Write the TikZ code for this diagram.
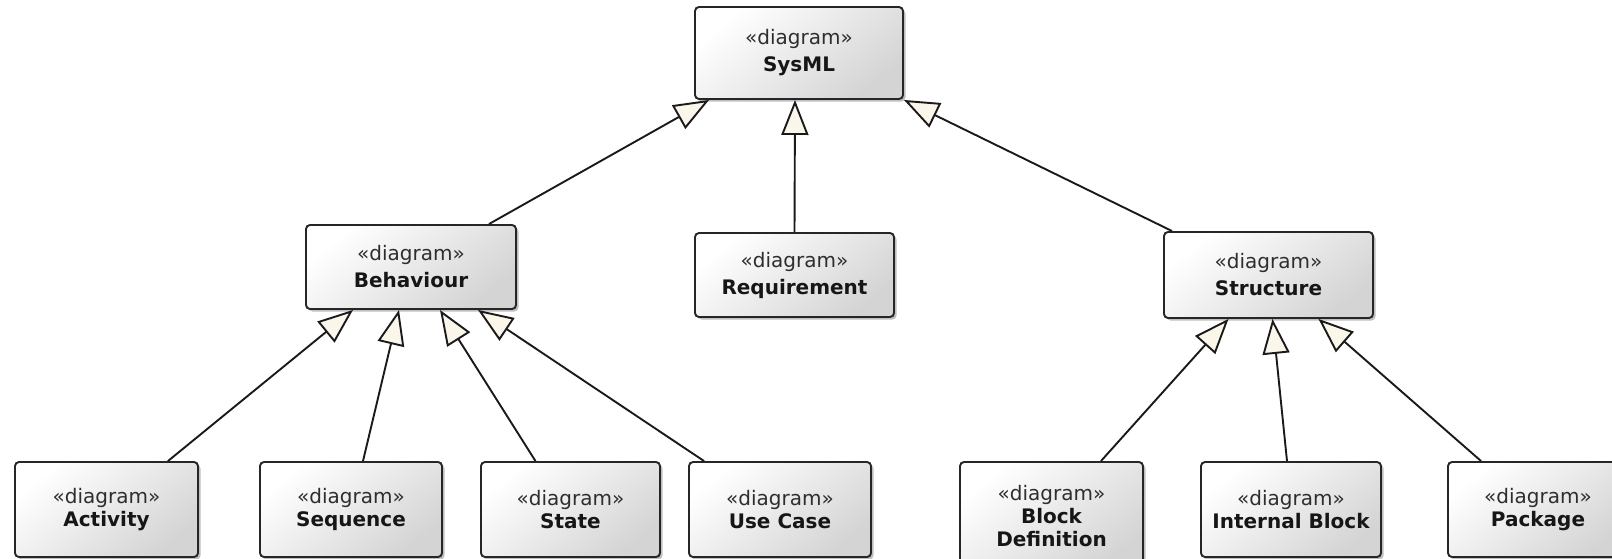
\documentclass[tikz,border=0pt]{standalone}
\usepackage{fontspec}
\setmainfont{DejaVu Sans}
\usetikzlibrary{arrows.meta,shadows}

\definecolor{boxline}{HTML}{262626}
\definecolor{boxshade}{HTML}{D4D4D4}
\definecolor{lineclr}{HTML}{1A1A1A}
\definecolor{cream}{HTML}{FAF6E9}
\definecolor{txt}{HTML}{161616}
\definecolor{stereo}{HTML}{2E2E2E}

\newcommand\stp{{\mdseries\color{stereo}«diagram»}}

\tikzset{
  dgm/.style={draw=boxline, line width=1.9pt, rounded corners=4pt,
    top color=white, bottom color=boxshade, shading angle=40,
    align=center, text=txt, inner sep=0pt,
    font=\fontsize{20}{27}\selectfont\bfseries,
    drop shadow={shadow xshift=2.5pt, shadow yshift=-2.5pt, opacity=.25, fill=black}},
  upper/.style={dgm},
  lower/.style={dgm, minimum width=182pt, minimum height=95pt,
    font=\fontsize{20}{23}\selectfont\bfseries},
  gen/.style={draw=lineclr, line width=1.9pt,
    -{Triangle[length=35pt, width=27pt, fill=cream, line width=1.9pt]}},
}

\begin{document}
\begin{tikzpicture}[x=1pt, y=-1pt]
  \useasboundingbox (0,0) rectangle (1612,558);
  \fill[white] (0,0) rectangle (1612,558);
  \clip (0,0) rectangle (1612,558);

  % top level
  \node[upper, minimum width=208pt, minimum height=92pt] (sysml) at (799,53) {\stp\\SysML};

  % second level
  \node[upper, minimum width=210pt, minimum height=84pt] (beh) at (411,267) {\stp\\Behaviour};
  \node[upper, minimum width=199pt, minimum height=84pt] (req) at (794.5,275) {\stp\\Requirement};
  \node[upper, minimum width=209pt, minimum height=86pt] (str) at (1268.5,275) {\stp\\Structure};

  % behaviour diagrams
  \node[lower, minimum width=183pt] (act) at (106.5,509.5) {\stp\\Activity};
  \node[lower] (seq) at (351,509.5) {\stp\\Sequence};
  \node[lower, minimum width=179pt] (sta) at (570.5,509.5) {\stp\\State};
  \node[lower] (uc) at (780,509.5) {\stp\\Use Case};

  % structure diagrams
  \node[lower, minimum width=183pt, minimum height=109pt] (bdd) at (1051.5,516.5) {\stp\\Block\\Definition};
  \node[lower, minimum width=180pt] (ibd) at (1291,509.5) {\stp\\Internal Block};
  \node[lower, minimum width=180pt] (pkg) at (1538,509.5) {\stp\\Package};

  % generalizations to SysML
  \draw[gen] ([xshift=-28pt]beh.north east) -- ([xshift=15pt]sysml.south west);
  \draw[gen] (req.north) -- ([xshift=-4pt]sysml.south);
  \draw[gen] ([xshift=9pt]str.north west) -- (sysml.south east);

  % generalizations to Behaviour
  \draw[gen] ([xshift=-31pt]act.north east) -- ([xshift=-58pt]beh.south);
  \draw[gen] ([xshift=12pt]seq.north) -- ([xshift=-12pt]beh.south);
  \draw[gen] ([xshift=-35pt]sta.north) -- ([xshift=29pt]beh.south);
  \draw[gen] ([xshift=16pt]uc.north west) -- ([xshift=67pt]beh.south);

  % generalizations to Structure
  \draw[gen] ([xshift=-43pt]bdd.north east) -- ([xshift=-40pt]str.south);
  \draw[gen] ([xshift=-4pt]ibd.north) -- ([xshift=4pt]str.south);
  \draw[gen] ([xshift=34pt]pkg.north west) -- ([xshift=50pt]str.south);
\end{tikzpicture}
\end{document}
